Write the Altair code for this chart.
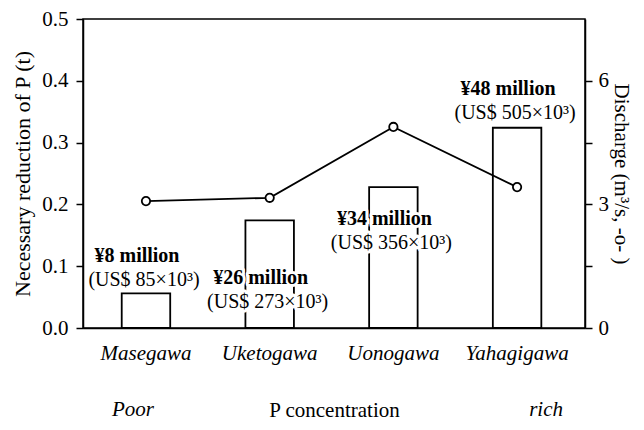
import altair as alt
import pandas as pd

rivers = ["Masegawa", "Uketogawa", "Uonogawa", "Yahagigawa"]
reduction = [0.056, 0.174, 0.228, 0.324]
discharge = [3.08, 3.16, 4.88, 3.42]
cost_jpy = ["¥8 million", "¥26 million", "¥34 million", "¥48 million"]
cost_usd = ["(US$ 85×10³)", "(US$ 273×10³)", "(US$ 356×10³)", "(US$ 505×10³)"]
label_at = [0.077, 0.0415, 0.137, 0.348]
left_ticks = [0.0, 0.1, 0.2, 0.3, 0.4, 0.5]
right_ticks = [0, 1.5, 3, 4.5, 6]

df = pd.DataFrame({
    "river": rivers,
    "reduction": reduction,
    "discharge": discharge,
    "jpy": cost_jpy,
    "usd": cost_usd,
    "label_at": label_at,
})

FONT = "Liberation Serif"
W, H = 502, 309

xscale = alt.Scale(domain=rivers, paddingInner=0.608, paddingOuter=0.333, align=0.47)
xaxis = alt.Axis(title="P concentration", labelAngle=0, labelFontStyle="italic",
                 labelFontSize=21, titleFontSize=21, titleFontWeight="normal",
                 ticks=False, labelPadding=14, titlePadding=36, domainWidth=1.5)
X = alt.X("river:N", scale=xscale, sort=rivers, axis=xaxis)

ylscale = alt.Scale(domain=[0, 0.5], nice=False, zero=True)
ylaxis = alt.Axis(title="Necessary reduction of P (t)", values=left_ticks, format=".1f",
                  tickSize=7, tickWidth=1.5, domainWidth=1.5, labelPadding=8,
                  labelFontSize=21, titleFontSize=22, titleFontWeight="normal",
                  titlePadding=7, grid=False)

yrscale = alt.Scale(domain=[0, 7.5], nice=False, zero=True)
yraxis = alt.Axis(title="Discharge (m³/s, -o- )", orient="right", values=right_ticks,
                  labelExpr="datum.value % 3 == 0 ? format(datum.value, 'd') : ''",
                  tickSize=7, tickWidth=1.5, domainWidth=1.5, labelPadding=6,
                  labelFontSize=21, titleFontSize=21, titleFontWeight="normal",
                  titlePadding=2, grid=False)

base = alt.Chart(df)

bars = base.mark_bar(fill="white", stroke="black", strokeWidth=1.8).encode(
    x=X, y=alt.Y("reduction:Q", scale=ylscale, axis=ylaxis))

def txt(field, halo, bold, dx, dy):
    kw = dict(font=FONT, fontSize=20, baseline="middle", align="center", dx=dx, dy=dy,
              fontWeight="bold" if bold else "normal")
    if halo:
        kw.update(fill="white", stroke="white", strokeWidth=6, strokeJoin="round")
    else:
        kw.update(fill="black")
    return base.mark_text(**kw).encode(
        x=X, y=alt.Y("label_at:Q", scale=ylscale, axis=ylaxis), text=f"{field}:N")

layers_left = [bars,
               txt("jpy", True, True, -9, -24), txt("usd", True, False, -2, 0),
               txt("jpy", False, True, -9, -24), txt("usd", False, False, -2, 0)]

poor = alt.Chart(pd.DataFrame({"river": [rivers[0]], "t": ["Poor"]})).mark_text(
    font=FONT, fontSize=21, fontStyle="italic", baseline="alphabetic", dx=-13).encode(
    x=X, y=alt.value(H + 88), text="t:N")
rich = alt.Chart(pd.DataFrame({"river": [rivers[-1]], "t": ["rich"]})).mark_text(
    font=FONT, fontSize=21, fontStyle="italic", baseline="alphabetic", dx=29).encode(
    x=X, y=alt.value(H + 88), text="t:N")

left = alt.layer(*layers_left, poor, rich)

line = base.mark_line(color="black", strokeWidth=1.8).encode(
    x=X, y=alt.Y("discharge:Q", scale=yrscale, axis=yraxis))
pts = base.mark_point(shape="circle", filled=True, fill="white", stroke="black",
                      strokeWidth=1.8, size=70, opacity=1).encode(
    x=X, y=alt.Y("discharge:Q", scale=yrscale, axis=yraxis))
right = alt.layer(line, pts)

chart = alt.layer(left, right).resolve_scale(y="independent").properties(
    width=W, height=H,
    autosize=alt.AutoSizeParams(type="none"),
    padding={"left": 75, "top": 11, "right": 51, "bottom": 94},
).configure_axis(
    labelFont=FONT, titleFont=FONT, labelColor="black", titleColor="black",
    domainColor="black", tickColor="black",
).configure_view(stroke="black", strokeWidth=1.5)

chart.save("out.html", embed_options={"renderer": "svg", "actions": False})
